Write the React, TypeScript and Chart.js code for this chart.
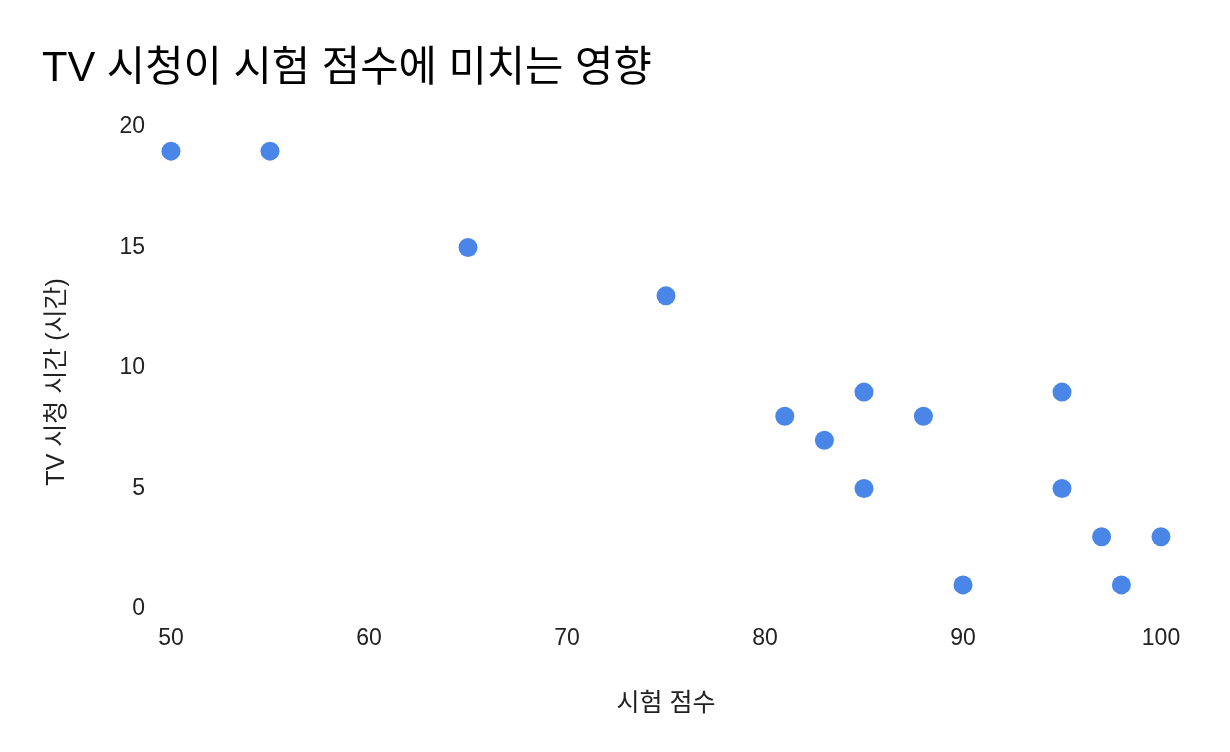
import React, { useEffect, useRef } from "react";
import { Chart, registerables } from "chart.js";

Chart.register(...registerables);

const titleText = "TV 시청이 시험 점수에 미치는 영향";
const xAxisTitle = "시험 점수";
const yAxisTitle = "TV 시청 시간 (시간)";

const scores = [50, 55, 65, 75, 81, 83, 85, 85, 88, 90, 95, 95, 97, 98, 100];
const tvHours = [19, 19, 15, 13, 8, 7, 9, 5, 8, 1, 9, 5, 3, 1, 3];

const xTicks = [50, 60, 70, 80, 90, 100];
const yTicks = [0, 5, 10, 15, 20];

const FONT = '"Liberation Sans", Arial, "Noto Sans CJK KR", sans-serif';

export default function App() {
  const ref = useRef<HTMLCanvasElement | null>(null);

  useEffect(() => {
    if (!ref.current) return;
    const points = scores.map((s, i) => ({ x: s, y: tvHours[i] }));
    const chart = new Chart(ref.current, {
      type: "scatter",
      data: {
        datasets: [
          {
            label: yAxisTitle,
            data: points,
            backgroundColor: "#4a86e8",
            borderColor: "#4a86e8",
            pointRadius: 9.5,
            pointHoverRadius: 9.5,
            borderWidth: 0,
            clip: false,
          },
        ],
      },
      options: {
        responsive: false,
        animation: false,
        devicePixelRatio: 1,
        layout: { padding: { left: 42, right: 69, top: 20, bottom: 10 } },
        plugins: {
          legend: { display: false },
          tooltip: { enabled: false },
          title: {
            display: true,
            text: titleText,
            align: "start",
            color: "#000",
            font: { family: FONT, size: 41.7, weight: "normal", lineHeight: 1.2 },
            padding: { top: 24.5, bottom: 32.5 },
          },
        },
        scales: {
          x: {
            type: "linear",
            min: 50,
            max: 100,
            afterBuildTicks: (scale: any) => {
              scale.ticks = xTicks.map((v) => ({ value: v }));
            },
            afterFit: (scale: any) => {
              scale.height = 133;
            },
            grid: { display: false, drawTicks: false },
            border: { display: false },
            ticks: {
              color: "#222",
              padding: 16,
              maxRotation: 0,
              font: { family: FONT, size: 23 },
            },
            title: {
              display: true,
              text: xAxisTitle,
              color: "#222",
              font: { family: FONT, size: 25 },
              padding: { top: 0, bottom: 23 },
            },
          },
          y: {
            type: "linear",
            min: 0,
            max: 20,
            afterBuildTicks: (scale: any) => {
              scale.ticks = yTicks.map((v) => ({ value: v }));
            },
            afterFit: (scale: any) => {
              scale.width = 129;
            },
            grid: { display: false, drawTicks: false },
            border: { display: false },
            ticks: {
              color: "#222",
              padding: 26,
              font: { family: FONT, size: 23 },
            },
            title: {
              display: true,
              text: yAxisTitle + "    ",
              color: "#222",
              font: { family: FONT, size: 25 },
              padding: { top: 0, bottom: 0 },
            },
          },
        },
      },
    });
    return () => chart.destroy();
  }, []);

  return (
    <div style={{ position: "absolute", left: 0, top: 0, width: 1230, height: 752, background: "#fff" }}>
      <canvas ref={ref} width={1230} height={752} style={{ width: 1230, height: 752 }} />
    </div>
  );
}
